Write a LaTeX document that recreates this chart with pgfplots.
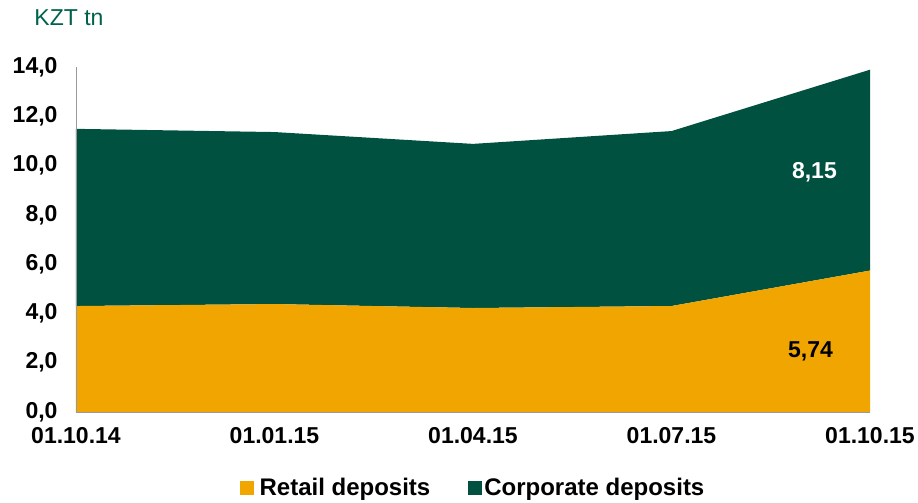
\documentclass[border=0pt]{standalone}
\usepackage{fontspec}
\setmainfont{Liberation Sans}
\usepackage{pgfplots}
\pgfplotsset{compat=1.18}
\usetikzlibrary{calc}
\definecolor{retail}{HTML}{F0A500}
\definecolor{corp}{HTML}{00513F}
\definecolor{titlegreen}{HTML}{00614C}
\newcommand{\bigf}{\fontsize{23bp}{27bp}\selectfont}
\newcommand{\legf}{\fontsize{24bp}{28bp}\selectfont}
\begin{document}
\begin{tikzpicture}
\begin{axis}[
  name=ax,
  scale only axis,
  width=794bp, height=345bp,
  xmin=0, xmax=4, ymin=0, ymax=14,
  stack plots=y,
  area style,
  axis on top,
  axis x line=bottom, axis y line=left,
  axis line style={-, draw=gray!80, line width=0.9pt},
  major tick length=0pt,
  xtick={0,1,2,3,4},
  xticklabels={01.10.14,01.01.15,01.04.15,01.07.15,01.10.15},
  ytick={0,2,4,6,8,10,12,14},
  /pgf/number format/assume math mode=true,
  yticklabel={\pgfmathprintnumber[fixed,fixed zerofill,precision=1,use comma]{\tick}},
  tick label style={font=\bigf\bfseries},
  xticklabel style={yshift=-12bp},
  yticklabel style={xshift=-15bp},
  clip=false,
  legend columns=2,
  legend style={at={(0.5,-0.22)}, anchor=center, draw=none, font=\legf\bfseries,
    /tikz/every even column/.append style={column sep=36bp}},
  legend image code/.code={\fill[#1] (0bp,-7bp) rectangle (14bp,7bp);},
]
\addplot[fill=retail, draw=none] coordinates {(0,4.30) (1,4.38) (2,4.22) (3,4.30) (4,5.74)} \closedcycle;
\addlegendentry{\hspace{4bp}Retail deposits}
\addplot[fill=corp, draw=none] coordinates {(0,7.19) (1,6.98) (2,6.66) (3,7.10) (4,8.15)} \closedcycle;
\addlegendentry{Corporate deposits}
\coordinate (lcorp) at (axis cs:3.72,9.74);
\coordinate (lret) at (axis cs:3.70,2.48);
\end{axis}
\node[font=\bigf\bfseries, text=white] at (lcorp) {8,15};
\node[font=\bigf\bfseries, text=black] at (lret) {5,74};
\node[font=\bigf, text=titlegreen] at ($(ax.south west)+(-7bp,394bp)$) {KZT tn};
\pgfresetboundingbox
\path ($(ax.south west)+(-76bp,-91bp)$) rectangle ++(918bp,503bp);
\end{tikzpicture}
\end{document}
